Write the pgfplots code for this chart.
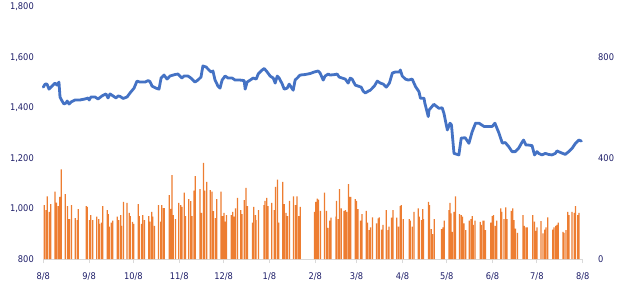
\documentclass[border=0pt]{standalone}
\usepackage{pgfplots}
\pgfplotsset{compat=1.18}
\usepackage{pgfplotstable}
\usepackage{fontspec}
\setmainfont{DejaVu Sans Condensed}
\definecolor{lineblue}{HTML}{4472C4}
\definecolor{barorange}{HTML}{ED7D31}
\definecolor{txtnavy}{RGB}{30,30,105}
\definecolor{axgray}{HTML}{D9D9D9}

\pgfplotstableread{
d v
0 1482
1.2 1494
2.5 1494
3.9 1474
5.9 1486
7.9 1498
9.3 1490
10.6 1502
11.3 1443
12.7 1427
14.0 1415
15.4 1419
16.1 1427
17.4 1415
18.8 1423
21.5 1431
24.8 1431
28.2 1435
30.3 1439
31.0 1431
32.3 1443
35.0 1443
37.0 1435
39.7 1447
42.4 1455
43.8 1439
45.2 1455
47.2 1447
49.2 1439
50.6 1447
52.0 1445
54.0 1437
56.7 1443
58.7 1459
61.4 1478
63.4 1506
65.5 1502
68.9 1502
70.9 1508
72.2 1504
73.6 1486
76.3 1478
78.3 1474
79.7 1518
81.7 1530
83.7 1514
85.7 1526
89.1 1532
91.1 1534
93.8 1518
95.2 1526
97.9 1526
99.9 1518
102.6 1502
104.6 1510
106.7 1522
108.0 1566
110.1 1562
112.1 1550
113.5 1542
114.8 1546
116.2 1510
118.2 1486
119.6 1478
121.0 1510
123.0 1526
125.1 1518
127.8 1518
129.8 1510
133.2 1510
135.9 1508
136.6 1474
137.9 1502
140.0 1510
142.0 1518
144.1 1514
145.4 1534
148.1 1550
149.5 1556
151.5 1542
153.5 1526
155.6 1518
156.9 1498
158.3 1526
159.6 1518
161.7 1494
163.0 1474
165.0 1478
166.4 1494
167.7 1482
169.1 1470
170.4 1510
171.8 1518
173.8 1530
177.2 1532
180.6 1536
183.3 1542
186.0 1546
187.3 1538
189.4 1510
190.7 1526
192.8 1534
194.1 1530
197.5 1532
198.8 1534
200.2 1522
202.2 1518
204.3 1514
206.3 1498
207.7 1518
209.0 1514
211.1 1490
213.1 1486
215.1 1482
216.5 1466
217.9 1459
219.9 1466
221.3 1470
224.0 1486
226.0 1506
228.1 1498
230.1 1494
232.1 1482
234.2 1498
236.2 1538
238.2 1542
240.9 1542
241.6 1550
242.9 1526
245.0 1514
247.0 1510
249.6 1514
251.9 1484
254.2 1464
255.2 1438
257.6 1438
258.2 1418
260.5 1365
261.0 1391
264.3 1414
267.7 1398
269.9 1400
271.1 1378
273.4 1312
275.2 1339
276.2 1332
277.9 1219
281.2 1213
282.8 1280
285.5 1281
288.0 1259
290.2 1305
292.5 1339
294.8 1339
298.2 1326
303.8 1326
305.6 1339
308.3 1300
310.6 1260
312.6 1262
314.9 1246
317.2 1226
319.4 1226
321.6 1239
323.9 1263
325.0 1272
326.6 1252
328.4 1252
330.7 1250
332.4 1213
334.1 1226
335.2 1219
337.4 1213
339.7 1219
341.9 1215
344.2 1213
346.5 1219
347.6 1229
349.8 1223
353.2 1215
355.5 1226
357.8 1239
360.1 1259
362.3 1272
364.1 1268
}\linedata

\pgfplotstableread{
d v
0.7 214
1.8 194
2.7 249
4.1 187
5.0 218
7.9 267
9.0 224
10.2 210
11.1 247
12.2 356
14.9 257
16.3 210
17.2 158
17.8 158
19.0 214
21.7 162
23.0 154
23.7 198
29.1 210
29.8 207
31.2 154
32.1 174
33.4 154
36.1 168
37.5 158
38.1 139
39.3 144
40.2 210
43.3 194
44.0 178
44.7 128
46.0 144
47.0 152
50.1 168
51.0 154
52.4 174
53.0 131
54.2 227
56.7 223
58.2 183
58.9 170
60.3 147
61.2 139
64.3 218
65.0 170
66.4 139
67.3 174
68.4 154
71.3 170
72.2 148
73.4 187
74.0 168
75.2 131
77.9 214
79.5 148
80.1 214
81.3 202
81.9 202
85.3 253
86.2 199
87.1 333
88.0 174
89.4 158
91.6 223
93.0 214
93.9 207
95.3 263
96.2 170
98.4 238
99.8 230
100.7 170
102.0 271
102.9 329
106.1 277
107.0 183
108.4 381
109.3 271
110.6 306
112.9 273
114.2 267
115.1 190
116.5 162
117.4 238
120.3 267
121.2 170
122.3 183
123.3 148
123.9 174
127.1 174
128.2 187
129.1 168
130.0 201
131.4 243
133.6 194
134.5 178
135.9 234
137.2 282
138.1 210
141.5 144
142.4 207
143.6 174
144.0 154
145.6 194
149.4 214
150.1 231
151.2 243
152.1 210
154.6 223
156.2 194
157.1 286
158.5 315
159.4 144
162.1 306
163.0 218
164.3 183
165.2 170
166.6 231
169.3 249
170.7 214
171.6 249
172.9 170
173.8 207
183.5 187
184.4 227
185.3 240
186.2 236
187.6 191
190.3 263
191.7 191
192.6 124
193.9 152
194.6 164
198.0 168
198.4 231
199.5 158
200.5 277
201.6 201
203.4 191
204.5 194
205.4 187
206.5 297
207.2 247
208.1 247
211.1 238
212.0 231
212.9 198
214.7 152
215.6 178
218.5 191
219.4 144
220.5 115
221.4 125
222.8 165
225.5 141
226.6 161
227.3 165
228.9 117
229.8 135
232.1 194
233.2 115
233.9 128
235.7 164
236.6 194
239.1 164
240.4 128
241.5 210
242.2 214
243.6 158
247.6 158
248.3 152
249.7 128
250.8 187
253.7 201
254.4 168
256.0 154
256.7 198
257.3 158
260.7 227
261.4 214
262.5 119
263.4 99
264.6 158
269.5 119
270.4 125
271.3 152
274.5 194
275.2 223
275.8 181
276.7 108
277.9 187
279.0 249
281.7 178
282.8 174
283.7 168
284.6 141
285.8 115
288.3 152
289.4 158
290.3 170
290.9 135
292.1 152
295.7 147
296.4 135
297.5 152
298.2 152
299.3 115
302.7 144
303.8 170
304.7 174
305.9 131
306.8 152
309.5 201
310.2 187
311.7 158
312.9 205
313.8 158
316.7 191
317.6 201
318.5 154
319.6 121
320.8 104
324.6 174
325.5 131
326.6 125
327.5 125
331.2 174
332.3 148
333.2 112
334.1 125
336.8 150
338.1 102
339.3 117
340.2 125
341.3 165
344.7 117
345.6 125
346.7 131
347.6 135
348.5 144
351.7 108
352.3 104
353.7 115
354.8 187
355.7 174
357.7 187
359.3 183
360.2 210
361.6 174
362.5 183
}\bardata

\begin{document}
\begin{tikzpicture}
\path[use as bounding box] (0,0) rectangle (622bp,302bp);
\pgfplotsset{
  every tick label/.append style={font=\fontsize{9.2bp}{10bp}\selectfont, text=txtnavy},
  /pgf/number format/assume math mode=true,
}
% bars (right axis)
\begin{axis}[
  at={(43.3bp,43bp)}, anchor=south west,
  scale only axis, width=539.4bp, height=252bp,
  xmin=0, xmax=365, ymin=0, ymax=1000,
  axis x line*=bottom, axis y line*=right,
  x axis line style={-, color=axgray, line width=0.9bp},
  y axis line style={draw=none},
  xtick={0,31,61,92,122,153,184,212,243,273,304,334,365},
  xticklabels={{8/8},{9/8},{10/8},{11/8},{12/8},{1/8},{2/8},{3/8},{4/8},{5/8},{6/8},{7/8},{8/8}},
  ytick={0,400,800},
  tick align=outside, major tick length=4bp,
  xtick style={color=axgray, line width=0.9bp},
  ytick style={draw=none},
  xticklabel style={yshift=-6bp},
  yticklabel style={xshift=8bp},
  clip=false,
]
\addplot[ybar, bar width=1.25bp, draw=none, fill=barorange] table[x=d, y=v] {\bardata};
\end{axis}
% line (left axis)
\begin{axis}[
  at={(43.3bp,43bp)}, anchor=south west,
  scale only axis, width=539.4bp, height=252bp,
  xmin=0, xmax=365, ymin=800, ymax=1800,
  axis x line=none, axis y line*=left,
  y axis line style={draw=none},
  ytick={800,1000,1200,1400,1600,1800},
  ytick style={draw=none},
  /pgf/number format/.cd, 1000 sep={,},
  /pgfplots/.cd,
  yticklabel style={xshift=-6bp},
  clip=false,
]
\addplot[lineblue, line width=2.8bp, line join=round, line cap=round] table[x=d, y=v] {\linedata};
\end{axis}
\end{tikzpicture}
\end{document}
